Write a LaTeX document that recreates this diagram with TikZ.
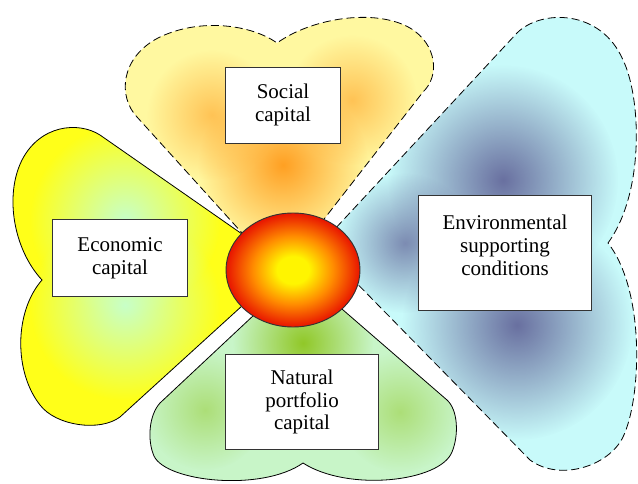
\documentclass[tikz,border=0pt]{standalone}
\usepackage{fontspec}
\setmainfont{Liberation Serif}
\newfontfamily\capfont{Liberation Serif}
\usetikzlibrary{fadings}
\definecolor{socialbase}{RGB}{255,248,160}
\definecolor{socialspot}{RGB}{255,160,35}
\definecolor{econbase}{RGB}{255,255,25}
\definecolor{econspot}{RGB}{200,255,200}
\definecolor{natbase}{RGB}{200,245,200}
\definecolor{natspot}{RGB}{145,200,40}
\definecolor{envbase}{RGB}{200,250,250}
\definecolor{envspot}{RGB}{105,112,160}
\definecolor{sunyellow}{RGB}{255,245,0}
\definecolor{sunorange}{RGB}{255,140,0}
\definecolor{sunred}{RGB}{232,20,0}
\pgfdeclareradialshading{sun}{\pgfpoint{0bp}{0bp}}{color(0bp)=(sunyellow); color(6bp)=(sunyellow); color(15bp)=(sunorange); color(25bp)=(sunred); color(50bp)=(sunred)}
\tikzfading[name=blobfade, inner color=transparent!0, outer color=transparent!100]
\def\socialleaf{(262,255) -- (137,117) .. controls (118,97) and (120,58) .. (158,38) .. controls (200,17) and (252,25) .. (277,43) .. controls (312,18) and (375,8) .. (410,28) .. controls (437,44) and (440,76) .. (423,92) -- (300,250) -- cycle}
\def\econleaf{(265,250) -- (100,135) .. controls (78,121) and (40,125) .. (22,160) .. controls (4,196) and (14,250) .. (42,280) .. controls (14,312) and (14,372) .. (40,405) .. controls (56,426) and (100,432) .. (120,417) -- (265,285) -- cycle}
\def\natleaf{(270,300) -- (160,403) .. controls (149,415) and (147,440) .. (154,456) .. controls (166,482) and (262,492) .. (303,463) .. controls (348,492) and (440,482) .. (452,452) .. controls (459,435) and (458,410) .. (447,400) -- (320,290) -- cycle}
\def\envleaf{(320,245) -- (517,33) .. controls (541,9) and (601,9) .. (623,60) .. controls (641,97) and (645,192) .. (608,243) .. controls (646,292) and (641,400) .. (623,437) .. controls (609,466) and (560,482) .. (530,460) -- (330,256) -- cycle}
\tikzset{
  leafline/.style={line width=0.6pt, black},
  leafdash/.style={leafline, dash pattern=on 6pt off 3pt},
  spot/.style={path fading=blobfade},
  capfont/.style={font=\capfont\fontsize{15.75}{17.2}\selectfont},
  capbox/.style={capfont, draw=black!80, fill=white, line width=0.7pt, align=center, inner sep=0pt}
}
\begin{document}
\begin{tikzpicture}[x=0.75pt, y=-0.75pt]
		%%%%% START %%%%%
		\useasboundingbox (0,0) rectangle (638,484);
		
		% social capital leaf
		\fill[socialbase] \socialleaf;
		\begin{scope}
			\clip \socialleaf;
			\fill[socialspot, spot] (283,165) circle (85);
			\fill[socialspot, spot, opacity=0.6] (212,115) circle (65);
			\fill[socialspot, spot, opacity=0.6] (352,100) circle (65);
		\end{scope}
		\draw[leafdash] \socialleaf;
		
		% economic capital leaf
		\fill[econbase] \econleaf;
		\begin{scope}
			\clip \econleaf;
			\fill[econspot, spot] (125,220) circle (95);
			\fill[econspot, spot] (125,305) circle (95);
		\end{scope}
		\draw[leafline] \econleaf;
		
		% natural portfolio capital leaf
		\fill[natbase] \natleaf;
		\begin{scope}
			\clip \natleaf;
			\fill[natspot, spot] (303,343) circle (70);
			\fill[natspot, spot, opacity=0.5] (205,410) circle (60);
			\fill[natspot, spot, opacity=0.5] (400,412) circle (60);
		\end{scope}
		\draw[leafline] \natleaf;
		
		% environmental leaf
		\fill[envbase] \envleaf;
		\begin{scope}
			\clip \envleaf;
			\fill[envspot, spot] (503,180) circle (115);
			\fill[envspot, spot, opacity=0.8] (405,243) circle (70);
			\fill[envspot, spot] (517,325) circle (115);
		\end{scope}
		\draw[leafdash] \envleaf;
		
		% centre
		\shade[shading=sun, draw=black!80, line width=0.7pt] (293,270) ellipse (67 and 57);
		
		% captions
		\node[capbox, minimum width=86pt, minimum height=57pt] (social) at (283,105) {Social\\capital};
		\node[capbox, minimum width=101pt, minimum height=58pt] (econ) at (120,258) {Economic\\capital};
		\node[capbox, minimum width=115pt, minimum height=71pt] (natural) at (302,402) {Natural\\portfolio\\capital};
		\node[capbox, minimum width=130pt, minimum height=86pt] (env) at (505,253) {};
		\node[capfont, align=center] (envtext) at (505,245) {Environmental\\supporting\\conditions};
		
		%%%%% END %%%%%
	\end{tikzpicture}
\end{document}
